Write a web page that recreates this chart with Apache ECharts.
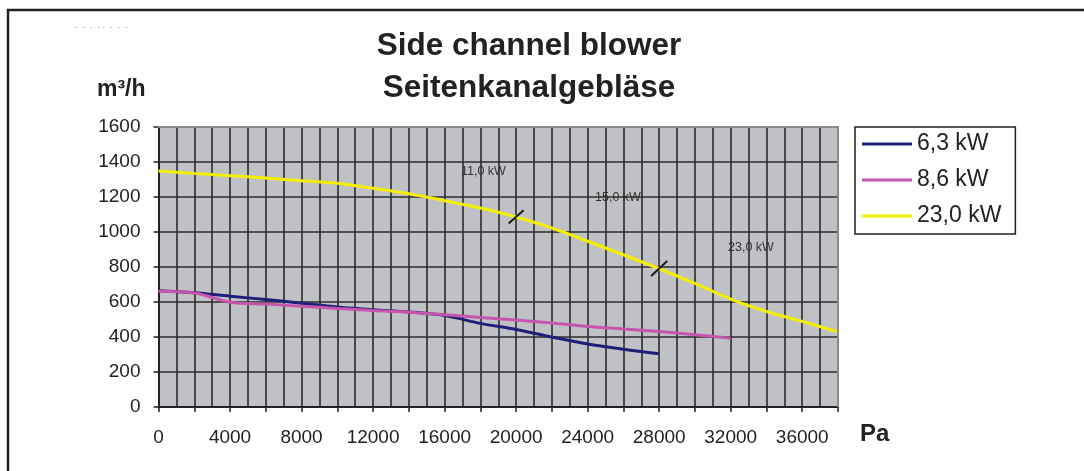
<!DOCTYPE html>
<html>
<head>
<meta charset="utf-8">
<script src="https://cdn.jsdelivr.net/npm/echarts@6/dist/echarts.min.js"></script>
<style>
  html, body { margin: 0; padding: 0; background: #fff; }
  #chart { width: 1084px; height: 471px; }
</style>
</head>
<body>
<div id="chart"></div>
<script>
  // 数据 (Pa -> m³/h)
  var pressure63 = [0, 2000, 4000, 6000, 8000, 10000, 12000, 14000, 16000, 18000, 20000, 22000, 24000, 26000, 28000];
  var flow63 = [664, 653, 633, 614, 593, 572, 556, 543, 523, 478, 443, 400, 360, 330, 304];

  var pressure86 = [0, 2000, 4000, 6000, 8000, 10000, 12000, 14000, 16000, 18000, 20000, 22000, 24000, 26000, 28000, 30000, 32000];
  var flow86 = [661, 652, 599, 588, 576, 563, 551, 542, 527, 512, 497, 480, 460, 446, 431, 413, 393];

  var pressure230 = [0, 2000, 4000, 6000, 8000, 10000, 12000, 14000, 16000, 18000, 20000, 22000, 24000, 26000, 28000, 30000, 32000, 34000, 36000, 38000];
  var flow230 = [1349, 1335, 1322, 1308, 1293, 1278, 1250, 1219, 1179, 1137, 1086, 1023, 947, 870, 790, 706, 617, 546, 489, 429];

  // 功率分段标记 (x1, y1, x2, y2)
  var breakMarks = [
    [19580, 1048, 20420, 1124],
    [27550, 748, 28450, 834]
  ];
  var stageLabels = ['11,0 kW', '15,0 kW', '23,0 kW'];
  var seriesNames = ['6,3 kW', '8,6 kW', '23,0 kW'];
  var xTicks = { min: 0, max: 38000, step: 2000, labelStep: 4000 };
  var yTicks = { min: 0, max: 1600, step: 200 };

  var zip = function (xs, ys) {
    return xs.map(function (x, i) { return [x, ys[i]]; });
  };

  var FONT = 'Liberation Sans, Arial, sans-serif';
  var chart = echarts.init(document.getElementById('chart'), null, { renderer: 'canvas' });

  var series = [
    { name: seriesNames[0], color: '#1e1f78', data: zip(pressure63, flow63) },
    { name: seriesNames[1], color: '#c655ad', data: zip(pressure86, flow86) },
    { name: seriesNames[2], color: '#f2f000', data: zip(pressure230, flow230) }
  ].map(function (s) {
    return {
      name: s.name,
      type: 'line',
      data: s.data,
      smooth: 0.35,
      showSymbol: false,
      symbol: 'none',
      itemStyle: { color: s.color },
      lineStyle: { color: s.color, width: 3 },
      z: 3
    };
  });

  breakMarks.forEach(function (m) {
    series.push({
      type: 'line',
      data: [[m[0], m[1]], [m[2], m[3]]],
      symbol: 'none',
      lineStyle: { color: '#1a1a1a', width: 2 },
      silent: true,
      z: 4
    });
  });

  var option = {
    backgroundColor: '#fff',
    animation: false,
    grid: { left: 158.5, right: 246, top: 127, bottom: 64, show: true, backgroundColor: '#c0c1c5', borderWidth: 0 },
    xAxis: {
      type: 'value',
      min: xTicks.min,
      max: xTicks.max,
      interval: xTicks.step,
      axisLine: { lineStyle: { color: '#222', width: 2 } },
      axisTick: { show: true, length: 5, lineStyle: { color: '#222', width: 1.5 } },
      axisLabel: {
        margin: 21,
        color: '#222',
        fontSize: 19,
        fontFamily: FONT,
        formatter: function (v) { return v % xTicks.labelStep === 0 ? String(v) : ''; }
      },
      splitLine: { show: true, lineStyle: { color: '#2b2b2b', width: 1.6 } },
      minorTick: { show: false, splitNumber: 2 },
      minorSplitLine: { show: true, lineStyle: { color: '#2b2b2b', width: 1.6 } }
    },
    yAxis: {
      type: 'value',
      min: yTicks.min,
      max: yTicks.max,
      interval: yTicks.step,
      axisLine: { show: true, lineStyle: { color: '#222', width: 2 } },
      axisTick: { show: true, length: 5, lineStyle: { color: '#222', width: 1.5 } },
      axisLabel: {
        margin: 18, color: '#222', fontSize: 19, fontFamily: FONT,
        formatter: function (v) { return String(v); }
      },
      splitLine: { show: true, lineStyle: { color: '#2b2b2b', width: 1.6 } }
    },
    legend: {
      data: seriesNames,
      orient: 'vertical',
      left: 855,
      top: 127,
      padding: [4, 14, 5, 7],
      itemGap: 10,
      itemWidth: 50,
      itemHeight: 3,
      icon: 'rect',
      borderColor: '#222',
      borderWidth: 1.5,
      backgroundColor: '#fff',
      textStyle: { color: '#222', fontSize: 23, fontFamily: FONT, lineHeight: 26 }
    },
    graphic: [
      // 外框
      { type: 'rect', shape: { x: 8, y: 10, width: 1200, height: 600 }, style: { fill: 'none', stroke: '#222', lineWidth: 2.5 }, silent: true },
      // 绘图区上/右边框
      { type: 'polyline', shape: { points: [[158, 127], [838, 127], [838, 407]] }, style: { fill: 'none', stroke: '#8a8a8a', lineWidth: 2 }, z: 10, silent: true },
      { type: 'text', left: 75, top: 21, style: { text: '.  .  .  . .  .  .  .', fill: '#777', font: '9px ' + FONT } },
      { type: 'text', x: 529, y: 30, style: { text: 'Side channel blower', fill: '#222', font: 'bold 31.5px ' + FONT, align: 'center', verticalAlign: 'top' } },
      { type: 'text', x: 529, y: 72, style: { text: 'Seitenkanalgebläse', fill: '#222', font: 'bold 31.5px ' + FONT, align: 'center', verticalAlign: 'top' } },
      { type: 'text', left: 97, top: 78, style: { text: 'm³/h', fill: '#222', font: 'bold 23px ' + FONT } },
      { type: 'text', left: 860, top: 422, style: { text: 'Pa', fill: '#222', font: 'bold 24px ' + FONT } },
      { type: 'text', left: 461, top: 165, style: { text: stageLabels[0], fill: '#333', font: '12.5px ' + FONT } },
      { type: 'text', left: 595, top: 191, style: { text: stageLabels[1], fill: '#333', font: '12.5px ' + FONT } },
      { type: 'text', left: 728, top: 241, style: { text: stageLabels[2], fill: '#333', font: '12.5px ' + FONT } }
    ],
    series: series
  };

  chart.setOption(option);
</script>
</body>
</html>
